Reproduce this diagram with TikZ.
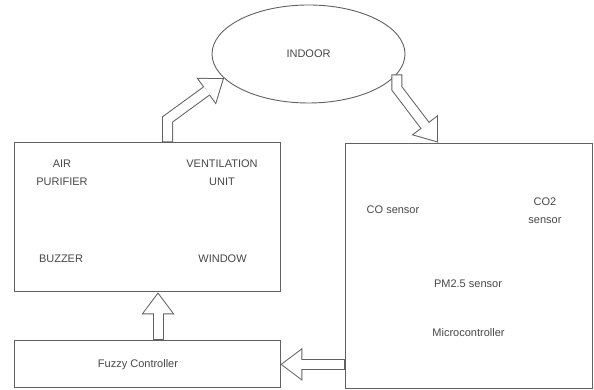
\documentclass[tikz,border=0pt]{standalone}
\usepackage{fontspec}
\setmainfont{Liberation Sans}
\usetikzlibrary{arrows.meta,positioning,shapes.geometric}
\definecolor{grisborde}{rgb}{0.38,0.38,0.38}
\definecolor{gristexto}{rgb}{0.28,0.28,0.28}
\tikzset{
  bloque/.style={
    draw=grisborde,
    line width=0.9pt,
    inner sep=0pt
  },
  rotulo/.style={
    align=center,
    text=gristexto,
    inner sep=1pt,
    font=\fontsize{11}{18}\selectfont
  },
  hueca/.style={
    draw=grisborde,
    line width=11pt,
    line join=miter,
    -{Triangle[length=22pt,width=33pt,line width=0pt]},
    postaction={
      draw=white,
      line width=9pt,
      -{Triangle[length=19.3pt,width=29pt,line width=0pt]},
      shorten >=1.67pt,
      shorten <=1pt
    }
  }
}
\begin{document}
\begin{tikzpicture}[x=1pt,y=1pt]
\useasboundingbox (0,0) rectangle (594,390);
% bloques
\node[bloque,rotulo,ellipse,minimum width=193pt,minimum height=98pt] (indoor) at (308.5,336) {INDOOR};
\node[bloque,minimum width=266pt,minimum height=149pt] (act) at (147,172.6) {};
\node[bloque,minimum width=266pt,minimum height=47pt] (fuzzy) at (147,25.6) {};
\node[bloque,minimum width=247pt,minimum height=245pt] (sens) at (468.5,124.5) {};
% actuadores
\node[rotulo] (air) at (62,217.5) {AIR\\PURIFIER};
\node[rotulo] (vent) at (222,217.5) {VENTILATION\\UNIT};
\node[rotulo] (buzz) at (61,131) {BUZZER};
\node[rotulo] (win) at (222.5,131) {WINDOW};
\node[rotulo] (tfz) at (138,25) {Fuzzy Controller};
% sensores
\node[rotulo] (co) at (393,180) {CO sensor};
\node[rotulo] (co2) at (545,179.5) {CO2\\sensor};
\node[rotulo] (pm) at (468,106) {PM2.5 sensor};
\node[rotulo] (mcu) at (468.5,57) {Microcontroller};
% flechas
\draw[hueca] ([xshift=20.5pt]act.north) -- ++(0,23) -- (indoor.196);
\draw[hueca] (indoor.347) -- ++(0,-14) -- ([xshift=-30.5pt]sens.north);
\draw[hueca] (sens.west |- fuzzy.east) -- (fuzzy.east);
\draw[hueca] ([xshift=11pt]fuzzy.north) -- ([xshift=11pt]act.south);
\end{tikzpicture}
\end{document}
